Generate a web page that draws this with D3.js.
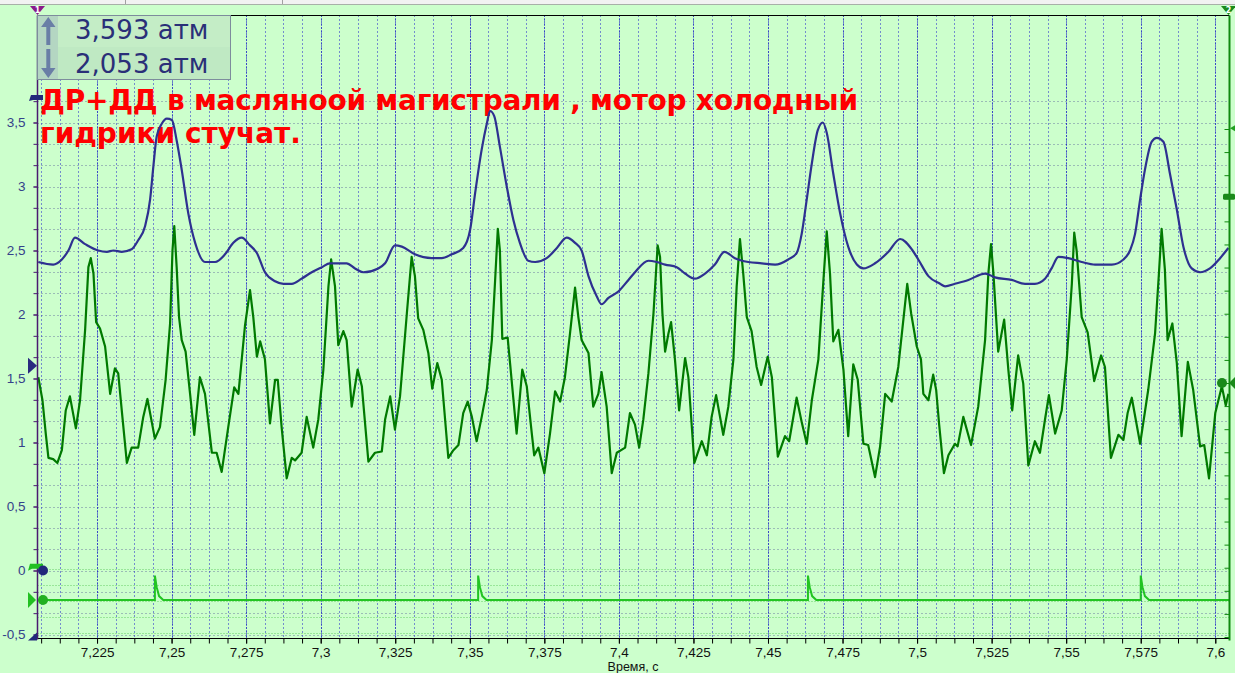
<!DOCTYPE html>
<html><head><meta charset="utf-8">
<script src="https://cdn.jsdelivr.net/npm/d3@7"></script>
<style>
html,body{margin:0;padding:0;background:#ccffcc;overflow:hidden}
svg{display:block}
</style></head><body>
<svg id="chart" width="1235" height="673"></svg>
<script>
// ---- data (time, s ; pressure, атм) ----
const oilPressureBlue = [[7.2053,2.41],[7.2103,2.39],[7.2132,2.43],[7.2154,2.50],[7.2176,2.60],[7.2210,2.55],[7.2254,2.50],[7.2283,2.49],[7.2305,2.50],[7.2333,2.49],[7.2366,2.51],[7.2388,2.58],[7.2411,2.69],[7.2428,2.90],[7.2439,3.16],[7.2450,3.39],[7.2467,3.49],[7.2484,3.53],[7.2501,3.52],[7.2517,3.36],[7.2534,3.13],[7.2556,2.79],[7.2579,2.56],[7.2612,2.41],[7.2646,2.41],[7.2679,2.47],[7.2707,2.56],[7.2735,2.60],[7.2763,2.54],[7.2786,2.48],[7.2813,2.33],[7.2847,2.26],[7.2875,2.24],[7.2903,2.24],[7.2936,2.28],[7.2970,2.33],[7.3004,2.37],[7.3031,2.40],[7.3087,2.40],[7.3115,2.36],[7.3143,2.33],[7.3193,2.36],[7.3216,2.40],[7.3249,2.54],[7.3272,2.53],[7.3316,2.47],[7.3372,2.44],[7.3406,2.44],[7.3439,2.47],[7.3478,2.52],[7.3501,2.66],[7.3518,2.95],[7.3540,3.29],[7.3557,3.49],[7.3568,3.59],[7.3582,3.55],[7.3601,3.31],[7.3624,3.00],[7.3646,2.74],[7.3668,2.56],[7.3696,2.42],[7.3719,2.41],[7.3758,2.44],[7.3792,2.52],[7.3825,2.60],[7.3853,2.56],[7.3875,2.50],[7.3898,2.30],[7.3926,2.14],[7.3942,2.08],[7.3965,2.13],[7.3998,2.18],[7.4032,2.27],[7.4054,2.33],[7.4099,2.42],[7.4127,2.41],[7.4155,2.39],[7.4194,2.37],[7.4222,2.32],[7.4255,2.28],[7.4289,2.32],[7.4322,2.39],[7.4354,2.49],[7.4389,2.44],[7.4434,2.41],[7.4479,2.40],[7.4524,2.39],[7.4568,2.43],[7.4596,2.48],[7.4613,2.63],[7.4630,2.90],[7.4647,3.18],[7.4667,3.44],[7.4684,3.50],[7.4697,3.42],[7.4719,3.10],[7.4742,2.79],[7.4769,2.53],[7.4798,2.39],[7.4820,2.36],[7.4859,2.40],[7.4904,2.49],[7.4943,2.59],[7.4982,2.51],[7.5004,2.43],[7.5038,2.30],[7.5077,2.24],[7.5094,2.22],[7.5127,2.24],[7.5172,2.27],[7.5228,2.32],[7.5261,2.29],[7.5317,2.27],[7.5362,2.24],[7.5395,2.24],[7.5429,2.28],[7.5451,2.36],[7.5474,2.45],[7.5507,2.44],[7.5552,2.41],[7.5597,2.39],[7.5653,2.39],[7.5692,2.43],[7.5714,2.50],[7.5731,2.63],[7.5748,2.90],[7.5764,3.13],[7.5787,3.35],[7.5804,3.38],[7.5826,3.35],[7.5848,3.10],[7.5871,2.82],[7.5893,2.53],[7.5921,2.36],[7.5949,2.33],[7.5982,2.36],[7.6016,2.44],[7.6044,2.52]];

const pressureGreen = [[7.2053,1.51],[7.2067,1.33],[7.2078,1.07],[7.2087,0.88],[7.2103,0.87],[7.2117,0.84],[7.2132,0.94],[7.2145,1.25],[7.2159,1.36],[7.2179,1.11],[7.2193,1.33],[7.2210,1.88],[7.2221,2.37],[7.2229,2.44],[7.2238,2.32],[7.2247,1.94],[7.2260,1.89],[7.2277,1.75],[7.2294,1.38],[7.2310,1.58],[7.2321,1.54],[7.2335,1.20],[7.2350,0.84],[7.2366,0.96],[7.2388,0.96],[7.2405,1.20],[7.2419,1.34],[7.2444,1.03],[7.2461,1.12],[7.2480,1.49],[7.2495,1.93],[7.2503,2.50],[7.2509,2.69],[7.2517,2.37],[7.2525,1.98],[7.2534,1.80],[7.2547,1.71],[7.2562,1.38],[7.2576,1.06],[7.2595,1.51],[7.2612,1.38],[7.2635,0.92],[7.2651,0.92],[7.2668,0.77],[7.2690,1.12],[7.2710,1.43],[7.2724,1.38],[7.2746,1.91],[7.2763,2.19],[7.2774,1.98],[7.2786,1.67],[7.2797,1.79],[7.2813,1.65],[7.2830,1.15],[7.2847,1.49],[7.2856,1.49],[7.2869,1.12],[7.2886,0.72],[7.2903,0.88],[7.2914,0.86],[7.2936,0.92],[7.2953,1.20],[7.2975,0.96],[7.2992,1.18],[7.3009,1.57],[7.3026,2.22],[7.3035,2.43],[7.3048,2.22],[7.3059,1.76],[7.3076,1.87],[7.3087,1.80],[7.3104,1.28],[7.3124,1.57],[7.3138,1.44],[7.3160,0.85],[7.3182,0.92],[7.3205,0.93],[7.3216,1.18],[7.3233,1.36],[7.3249,1.10],[7.3266,1.36],[7.3289,2.01],[7.3305,2.45],[7.3316,2.30],[7.3327,1.97],[7.3344,1.88],[7.3361,1.70],[7.3374,1.42],[7.3391,1.62],[7.3406,1.49],[7.3428,0.88],[7.3445,0.94],[7.3462,0.98],[7.3478,1.23],[7.3493,1.32],[7.3507,1.20],[7.3523,1.01],[7.3540,1.20],[7.3557,1.41],[7.3574,1.80],[7.3585,2.27],[7.3594,2.67],[7.3601,2.50],[7.3609,1.81],[7.3627,1.82],[7.3635,1.62],[7.3657,1.07],[7.3676,1.57],[7.3691,1.44],[7.3708,1.07],[7.3716,0.90],[7.3730,0.96],[7.3750,0.76],[7.3769,1.07],[7.3786,1.40],[7.3803,1.32],[7.3819,1.51],[7.3836,1.85],[7.3853,2.21],[7.3864,1.98],[7.3875,1.80],[7.3898,1.70],[7.3914,1.28],[7.3931,1.38],[7.3942,1.55],[7.3959,1.28],[7.3976,0.76],[7.3993,0.92],[7.4021,0.96],[7.4037,1.23],[7.4054,1.14],[7.4068,0.96],[7.4082,1.18],[7.4099,1.54],[7.4116,2.01],[7.4130,2.54],[7.4138,2.45],[7.4146,2.01],[7.4155,1.71],[7.4166,1.85],[7.4175,1.94],[7.4188,1.65],[7.4202,1.25],[7.4222,1.66],[7.4233,1.51],[7.4253,0.84],[7.4278,1.01],[7.4295,0.90],[7.4311,1.20],[7.4326,1.37],[7.4350,1.06],[7.4367,1.28],[7.4384,1.65],[7.4395,2.22],[7.4406,2.59],[7.4417,2.32],[7.4429,1.98],[7.4445,1.87],[7.4462,1.59],[7.4477,1.45],[7.4499,1.67],[7.4513,1.51],[7.4533,0.89],[7.4557,1.05],[7.4571,1.01],[7.4596,1.35],[7.4613,1.16],[7.4630,0.99],[7.4647,1.33],[7.4669,1.65],[7.4686,2.27],[7.4697,2.65],[7.4708,2.32],[7.4719,1.79],[7.4736,1.88],[7.4753,1.57],[7.4769,1.05],[7.4786,1.61],[7.4801,1.49],[7.4820,0.99],[7.4836,0.98],[7.4859,0.73],[7.4876,0.97],[7.4893,1.38],[7.4915,1.32],[7.4937,1.59],[7.4954,1.96],[7.4967,2.24],[7.4980,2.01],[7.4999,1.75],[7.5013,1.65],[7.5021,1.38],[7.5038,1.33],[7.5054,1.53],[7.5064,1.41],[7.5074,1.14],[7.5090,0.76],[7.5105,0.90],[7.5127,0.99],[7.5136,0.97],[7.5155,1.20],[7.5181,0.98],[7.5205,1.28],[7.5228,1.80],[7.5239,2.32],[7.5248,2.55],[7.5256,2.32],[7.5272,1.71],[7.5292,1.96],[7.5306,1.57],[7.5319,1.25],[7.5339,1.68],[7.5356,1.46],[7.5373,0.82],[7.5395,1.01],[7.5412,0.92],[7.5429,1.18],[7.5442,1.37],[7.5463,1.07],[7.5485,1.25],[7.5502,1.65],[7.5519,2.24],[7.5527,2.64],[7.5535,2.50],[7.5552,1.98],[7.5572,1.86],[7.5594,1.48],[7.5617,1.68],[7.5630,1.59],[7.5650,0.88],[7.5675,1.06],[7.5692,1.02],[7.5706,1.23],[7.5720,1.35],[7.5748,0.99],[7.5775,1.41],[7.5798,1.85],[7.5811,2.32],[7.5820,2.67],[7.5831,2.35],[7.5840,1.80],[7.5856,1.93],[7.5871,1.62],[7.5887,1.05],[7.5908,1.63],[7.5926,1.41],[7.5949,0.97],[7.5963,0.98],[7.5979,0.72],[7.6000,1.23],[7.6022,1.44],[7.6035,1.29],[7.6044,1.38]];

const syncPulse = [[7.2052,-0.23],[7.2444,-0.23],[7.2444,-0.04],[7.2450,-0.13],[7.2458,-0.20],[7.2472,-0.23],[7.3528,-0.23],[7.3528,-0.04],[7.3534,-0.13],[7.3542,-0.20],[7.3556,-0.23],[7.4634,-0.23],[7.4634,-0.04],[7.4640,-0.13],[7.4648,-0.20],[7.4662,-0.23],[7.5750,-0.23],[7.5750,-0.04],[7.5756,-0.13],[7.5764,-0.20],[7.5778,-0.23],[7.6046,-0.23]];

const xTickValues = [7.225,7.25,7.275,7.3,7.325,7.35,7.375,7.4,7.425,7.45,7.475,7.5,7.525,7.55,7.575,7.6];
const yTickValues = [-0.5,0,0.5,1,1.5,2,2.5,3,3.5];
const cursorReadings = ["3,593 атм","2,053 атм"];
const titleLines = ["ДР+ДД в масляноой магистрали , мотор холодный","гидрики стучат."];
const xAxisTitle = "Время, с";

// ---- scales ----
const svg = d3.select("#chart");
const PL=37.5, PR=1229.5, PT=15.5, PB=638.5;
const x = d3.scaleLinear().domain([7.2052,7.6046]).range([38,1229]);
const y = d3.scaleLinear().domain([-0.5,3.5]).range([634.5,122.5]);
const yRight = d3.scaleLinear().domain([0,22]).range([637,129]);
const fmt = v => String(+v.toFixed(3)).replace(".",",");

svg.append("rect").attr("width",1235).attr("height",673).attr("fill","#ccffcc");
// top strip
svg.append("rect").attr("x",0).attr("y",0).attr("width",1235).attr("height",4).attr("fill","#f2f2f2");
svg.append("line").attr("x1",0).attr("x2",1235).attr("y1",4.5).attr("y2",4.5).attr("stroke","#a8b0a8");
[125,282].forEach(v=>svg.append("line").attr("x1",v+.5).attr("x2",v+.5).attr("y1",0).attr("y2",4).attr("stroke","#a0a0a0"));

const grid = svg.append("g");
// horizontal grid (1/6 divisions)
const hGrid = d3.range(26).map(i=>-0.5+i/6);
grid.selectAll("line.h").data(hGrid).join("line")
  .attr("x1",PL).attr("x2",PR).attr("y1",d=>Math.round(y(d))+.5).attr("y2",d=>Math.round(y(d))+.5)
  .attr("stroke","#6a78a0").attr("stroke-dasharray","1,3");
// green sub grid near bottom
const gGrid = [0,-0.125,-0.25,-0.375,-0.5];
grid.selectAll("line.g").data(gGrid).join("line")
  .attr("x1",PL).attr("x2",PR).attr("y1",d=>Math.round(y(d))-1.5).attr("y2",d=>Math.round(y(d))-1.5)
  .attr("stroke","#66cc66").attr("stroke-dasharray","1,2");
// vertical grid
const xMinor = d3.range(0,64).map(i=>7.20625+i*0.00625).filter(v=>x(v)>39&&x(v)<1228);
grid.selectAll("line.v").data(xMinor).join("line")
  .attr("x1",d=>Math.round(x(d))+.5).attr("x2",d=>Math.round(x(d))+.5).attr("y1",PT).attr("y2",PB)
  .attr("stroke","#1a1acc").attr("stroke-dasharray","1,3");
grid.selectAll("line.vm").data(xTickValues.filter(v=>x(v)<1228)).join("line")
  .attr("x1",d=>Math.round(x(d))+.5).attr("x2",d=>Math.round(x(d))+.5).attr("y1",PT).attr("y2",PB)
  .attr("stroke","#0000c0").attr("stroke-dasharray","1,2");

// title text (behind traces)
const title = svg.append("g").attr("font-family","'DejaVu Sans'").attr("font-weight","bold")
  .attr("font-size","28px").attr("fill","#ff0000");
title.append("text").attr("x",40).attr("y",110).attr("textLength",818).attr("lengthAdjust","spacing").text(titleLines[0]);
title.append("text").attr("x",40).attr("y",143).text(titleLines[1]);

// traces
svg.append("clipPath").attr("id","clip").append("rect").attr("x",38).attr("y",16).attr("width",1191).attr("height",622);
const traces = svg.append("g").attr("clip-path","url(#clip)");
const line = d3.line().x(d=>x(d[0])).y(d=>y(d[1]));
traces.append("path").datum(syncPulse).attr("d",line).attr("fill","none").attr("stroke","#22c422").attr("stroke-width",2);
traces.append("path").datum(pressureGreen).attr("d",line).attr("fill","none").attr("stroke","#007a00").attr("stroke-width",2.2).attr("stroke-linejoin","round");
traces.append("path").datum(oilPressureBlue).attr("d",line.curve(d3.curveMonotoneX)).attr("fill","none").attr("stroke","#2e3090").attr("stroke-width",2.2);

// axes
const axisCol="#4a1a70";
const gx = svg.append("g").attr("transform",`translate(0,${PB})`);
gx.call(d3.axisBottom(x).tickValues(xMinor).tickSize(5).tickFormat(""));
gx.call(g=>g.select(".domain").remove());
const gx2 = svg.append("g").attr("transform",`translate(0,${PB})`);
gx2.call(d3.axisBottom(x).tickValues(xTickValues).tickSize(5).tickPadding(4).tickFormat(fmt));
gx2.select(".domain").remove();
gx.selectAll("line").attr("stroke","#000");
gx2.selectAll("line").attr("stroke","#000");
gx2.selectAll("text").attr("font-family","'Liberation Sans',Arial").attr("font-size","13.5px").attr("fill","#111");
svg.append("line").attr("x1",PL).attr("x2",PR).attr("y1",PB).attr("y2",PB).attr("stroke","#000");
svg.append("line").attr("x1",PL).attr("x2",PR).attr("y1",PT).attr("y2",PT).attr("stroke","#000");

const gy = svg.append("g").attr("transform",`translate(${PL},0)`);
gy.call(d3.axisLeft(y).tickValues(hGrid).tickSize(4).tickFormat(""));
gy.select(".domain").remove();
gy.selectAll("line").attr("stroke",axisCol);
const gy2 = svg.append("g").attr("transform",`translate(${PL},0)`);
gy2.call(d3.axisLeft(y).tickValues(yTickValues).tickSize(4).tickPadding(8).tickFormat(fmt));
gy2.select(".domain").remove();
gy2.selectAll("line").attr("stroke",axisCol);
gy2.selectAll("text").attr("font-family","'Liberation Sans',Arial").attr("font-size","13.5px").attr("fill","#34428a");
svg.append("line").attr("x1",PL).attr("x2",PL).attr("y1",PT).attr("y2",PB+1).attr("stroke",axisCol).attr("stroke-width",1.5);

// right axis (channel 2)
const gr = svg.append("g").attr("transform",`translate(${PR},0)`);
gr.call(d3.axisLeft(yRight).tickValues(d3.range(0,23)).tickSize(5).tickFormat(""));
gr.select(".domain").remove();
gr.selectAll("line").attr("stroke","#108a10");
svg.append("line").attr("x1",PR).attr("x2",PR).attr("y1",PT).attr("y2",PB+2).attr("stroke","#108a10").attr("stroke-width",2);

svg.append("text").attr("x",633).attr("y",670.5).attr("text-anchor","middle")
  .attr("font-family","'Liberation Sans',Arial").attr("font-size","12.5px").attr("fill","#111").text(xAxisTitle);

// markers
const mk = svg.append("g");
mk.append("path").attr("d",`M30,6 L45,6 L37.5,15 Z`).attr("fill","#8a1a8a");
mk.append("text").attr("x",37.5).attr("y",13).attr("text-anchor","middle").attr("font-size","8px").attr("font-family","'DejaVu Sans'").attr("font-weight","bold").attr("fill","#fff").text("1");
mk.append("path").attr("d",`M1221,6 L1236,6 L1228.5,15 Z`).attr("fill","#1a8a1a");
mk.append("text").attr("x",1228.5).attr("y",13).attr("text-anchor","middle").attr("font-size","8px").attr("font-family","'DejaVu Sans'").attr("font-weight","bold").attr("fill","#fff").text("2");
const yFlagNavy = y(3.7), yTrigLevel = y(1.6), yFlagGreen = y(0.03);
mk.append("path").attr("d",`M29,${yFlagNavy+4} L31,${yFlagNavy-2} L43,${yFlagNavy-2} L43,${yFlagNavy+3} L33,${yFlagNavy+3} Z`).attr("fill","#22287a");
mk.append("path").attr("d",`M28,${yTrigLevel-8} L37,${yTrigLevel} L28,${yTrigLevel+8} Z`).attr("fill","#2a2a80");
mk.append("path").attr("d",`M28,${yFlagGreen+4} L30,${yFlagGreen-3} L43,${yFlagGreen-3} L43,${yFlagGreen+2} L32,${yFlagGreen+2} Z`).attr("fill","#22c022");
mk.append("circle").attr("cx",43).attr("cy",y(0)).attr("r",5).attr("fill","#22287a");
mk.append("path").attr("d",`M28,${y(-0.23)-8} L36,${y(-0.23)} L28,${y(-0.23)+8} Z`).attr("fill","#22c022");
mk.append("circle").attr("cx",43).attr("cy",y(-0.23)).attr("r",5).attr("fill","#22b022");
mk.append("path").attr("d",`M28,${PB+2} L37,${PB-6} L37,${PB+2} Z`).attr("fill","#22287a");
mk.append("path").attr("d",`M1230,${y(3.455)} L1235,${y(3.455)-3} L1235,${y(3.455)+3} Z`).attr("fill","#22a022");
mk.append("rect").attr("x",1223).attr("y",y(2.92)-3).attr("width",12).attr("height",6).attr("rx",1.5).attr("fill","#1a8a1a");
mk.append("circle").attr("cx",1222).attr("cy",y(1.465)).attr("r",5).attr("fill","#1a8a1a");
mk.append("path").attr("d",`M1229,${y(1.465)} L1235,${y(1.465)-6} L1235,${y(1.465)+6} Z`).attr("fill","#1a8a1a");

// cursor readout box
const box = svg.append("g");
box.append("rect").attr("x",37.5).attr("y",15.5).attr("width",193).attr("height",64).attr("fill","#c4edc6").attr("stroke","#7d8c9c");
box.append("rect").attr("x",38).attr("y",47).attr("width",192).attr("height",32).attr("fill","#bfe9c3");
box.append("rect").attr("x",38).attr("y",16).attr("width",20).attr("height",63).attr("fill","#b4d6c2");
const ac="#6a7ea6";
box.append("path").attr("d","M48.3,17 L55.5,27 L50.3,27 L50.3,45 L46.3,45 L46.3,27 L41.1,27 Z").attr("fill",ac);
box.append("path").attr("d","M48.3,78 L55.5,68 L50.3,68 L50.3,49 L46.3,49 L46.3,68 L41.1,68 Z").attr("fill",ac);
box.selectAll("text.r").data(cursorReadings).join("text")
  .attr("x",75).attr("y",(d,i)=>39+i*34).attr("font-family","'DejaVu Sans'").attr("font-size","26px").attr("fill","#2a2f78").text(d=>d);
</script>
</body></html>
